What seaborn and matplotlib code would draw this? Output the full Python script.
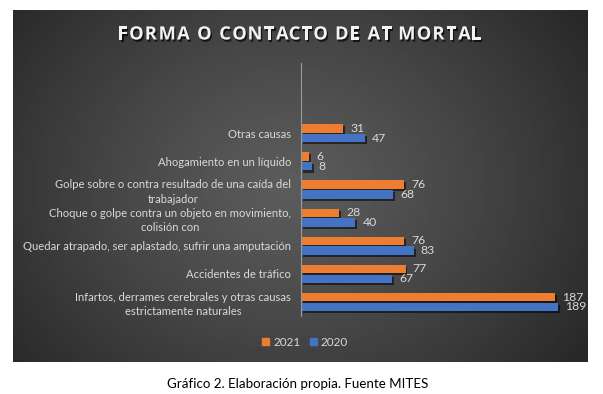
import numpy as np
import pandas as pd
import matplotlib
matplotlib.use('Agg')
import matplotlib.pyplot as plt
import matplotlib.patches as mpatches
import matplotlib.patheffects as pe
import seaborn as sns

# Datos del gráfico
categorias = [
    'Otras causas',
    'Ahogamiento en un líquido',
    'Golpe sobre o contra resultado de una caída del\ntrabajador',
    'Choque o golpe contra un objeto en movimiento,\ncolisión con',
    'Quedar atrapado, ser aplastado, sufrir una amputación',
    'Accidentes de tráfico',
    'Infartos, derrames cerebrales y otras causas\nestrictamente naturales',
]
valores_2021 = [31, 6, 76, 28, 76, 77, 187]
valores_2020 = [47, 8, 68, 40, 83, 67, 189]
anios = ['2021', '2020']
colores = {'2021': '#ED7D31', '2020': '#4472C4'}
titulo = 'FORMA O CONTACTO DE AT MORTAL'

df = pd.DataFrame({
    'categoria': categorias * 2,
    'anio': ['2021'] * len(categorias) + ['2020'] * len(categorias),
    'valor': valores_2021 + valores_2020,
})

sns.set_style('dark')
plt.rcParams['font.family'] = ['Lato', 'DejaVu Sans']

W, H = 603, 394
fig = plt.figure(figsize=(W / 100, H / 100), dpi=100)
fig.patch.set_facecolor('white')

# Fondo oscuro con degradado radial
bg = fig.add_axes([12.7 / W, 1 - 361.7 / H, 575 / W, 351.7 / H])
yy, xx = np.mgrid[0:1:200j, 0:1:300j]
r = np.sqrt(((xx - 0.48) / 0.55) ** 2 + ((yy - 0.5) / 0.75) ** 2)
r = np.clip(r / r.max(), 0, 1)
c_centro, c_borde = 0x5c / 255, 0x27 / 255
img = c_centro - (c_centro - c_borde) * r ** 1.2
bg.imshow(img, cmap='gray', vmin=0, vmax=1, aspect='auto', interpolation='bilinear')
bg.axis('off')

# Gráfico de barras
ax = fig.add_axes([301 / W, 1 - 316 / H, 272 / W, 253 / H])
ax.patch.set_alpha(0)
sns.barplot(data=df, y='categoria', x='valor', hue='anio', hue_order=anios,
            order=categorias, palette=colores, orient='y', width=0.7, gap=0.15,
            saturation=1, legend=False, linewidth=0, edgecolor='none', ax=ax)

sombra = [pe.withSimplePatchShadow(offset=(1.2, -1.5), shadow_rgbFace='black', alpha=0.55)]
for cont in ax.containers:
    for barra in cont:
        barra.set_path_effects(sombra)
    ax.bar_label(cont, padding=5, color='#d9d9d9', fontsize=8.8)

ax.set_xlim(0, 200)
ax.set_ylim(6.5, -2.5)
ax.set_xlabel('')
ax.set_ylabel('')
ax.set_xticks([])
ax.grid(False)
for lado in ['top', 'right', 'bottom']:
    ax.spines[lado].set_visible(False)
ax.spines['left'].set_color('#9a9a9a')
ax.spines['left'].set_linewidth(0.8)
ax.tick_params(axis='y', length=0, pad=7, labelcolor='#d9d9d9', labelsize=8.1)
for t in ax.get_yticklabels():
    t.set_multialignment('center')
    t.set_linespacing(1.35)

# Leyenda
handles = [mpatches.Patch(color=colores[a], label=a) for a in anios]
fig.legend(handles=handles, loc='center', bbox_to_anchor=(305 / W, 1 - 342 / H),
           ncol=2, frameon=False, handlelength=0.6, handleheight=0.6,
           handletextpad=0.3, columnspacing=0.8, labelcolor='#d9d9d9', fontsize=8.5)

# Título con espaciado entre letras (matplotlib no tiene letter-spacing)
props = dict(fontsize=13.2, fontweight='bold', color='#f2f2f2', family=['Open Sans', 'DejaVu Sans'],
             va='center', ha='left',
             path_effects=[pe.withSimplePatchShadow(offset=(1, -1.5), shadow_rgbFace='black', alpha=0.7)])
renderer = fig.canvas.get_renderer()


def ancho(s):
    t = fig.text(0, 0, s + 'X', **props)
    w1 = t.get_window_extent(renderer).width
    t.remove()
    t = fig.text(0, 0, 'X', **props)
    w0 = t.get_window_extent(renderer).width
    t.remove()
    return w1 - w0


espacio = 1.3
total = ancho(titulo) + espacio * (len(titulo) - 1)
x0 = 299.5 - total / 2
for i, ch in enumerate(titulo):
    if ch == ' ':
        continue
    x = x0 + ancho(titulo[:i]) + espacio * i
    fig.text(x / W, 1 - 34.5 / H, ch, **props)

# Pie de figura
fig.text(297.5 / W, 1 - 384 / H, 'Gráfico 2. Elaboración propia. Fuente MITES',
         ha='center', va='center', fontsize=9.6, color='black')

fig.savefig('out.png', dpi=100, facecolor='white')
